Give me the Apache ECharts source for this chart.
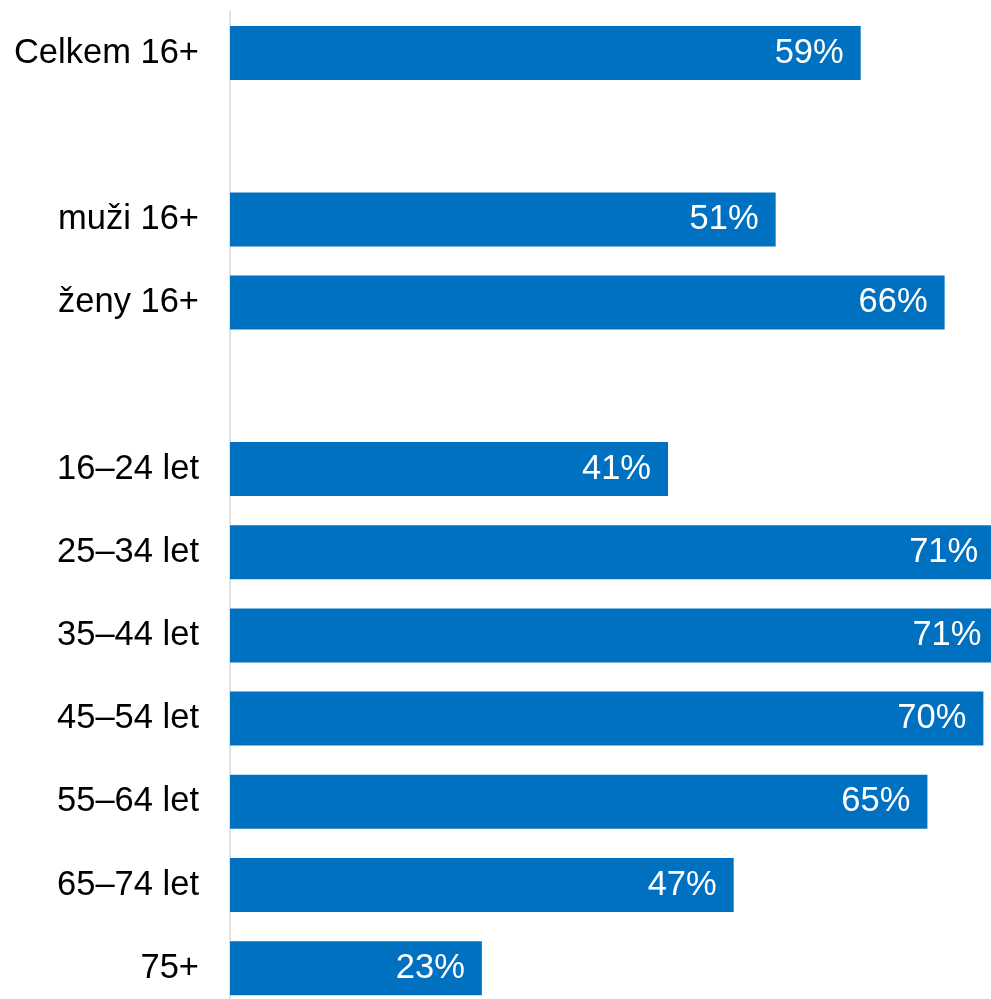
<!DOCTYPE html>
<html>
<head>
<meta charset="utf-8">
<script src="https://cdn.jsdelivr.net/npm/echarts@6/dist/echarts.min.js"></script>
<style>html,body{margin:0;padding:0;background:#fff;}#c{width:991px;height:999px;}</style>
</head>
<body>
<div id="c"></div>
<script>
var categories = ['Celkem 16+', '', 'muži 16+', 'ženy 16+', '', '16–24 let', '25–34 let', '35–44 let', '45–54 let', '55–64 let', '65–74 let', '75+'];
var values = [58.6, null, 50.7, 66.4, null, 40.7, 71.1, 71.4, 70.0, 64.8, 46.8, 23.4];

var chart = echarts.init(document.getElementById('c'), null, {renderer: 'canvas'});
chart.setOption({
  animation: false,
  backgroundColor: '#ffffff',
  grid: {left: 230, top: 11.4, width: 861, height: 998.4, containLabel: false, outerBoundsMode: 'none'},
  xAxis: {type: 'value', min: 0, max: 80, show: false},
  yAxis: {
    type: 'category', data: categories, inverse: true,
    axisLine: {show: true, lineStyle: {color: '#d9d9d9', width: 1.5}},
    axisTick: {show: false},
    splitLine: {show: false},
    axisLabel: {color: '#000', fontSize: 34.5, fontFamily: 'Liberation Sans, Arial, sans-serif', margin: 31, padding: [5, 0, 0, 0]}
  },
  series: [{
    type: 'bar', data: values, barWidth: 54,
    itemStyle: {color: '#0070C0'},
    label: {show: true, position: 'insideRight', distance: 17, color: '#fff', fontSize: 34.5,
      fontFamily: 'Liberation Sans, Arial, sans-serif', padding: [5, 0, 0, 0],
      formatter: function(p){ return p.value == null ? '' : Math.round(p.value) + '%'; }}
  }]
});
</script>
</body>
</html>
